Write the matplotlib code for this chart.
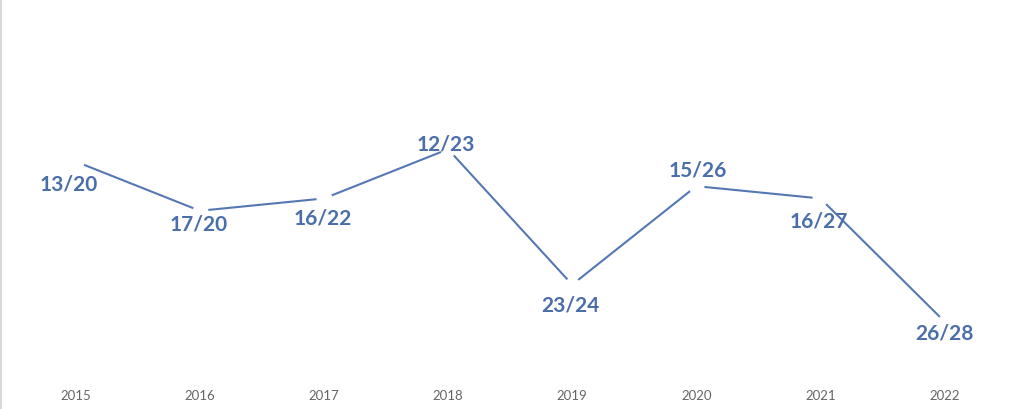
import matplotlib
matplotlib.use("Agg")
import matplotlib.pyplot as plt
from matplotlib.lines import Line2D

# data: rank / number of entries per year
years = ["2015", "2016", "2017", "2018", "2019", "2020", "2021", "2022"]
ranks = [13, 17, 16, 12, 23, 15, 16, 26]
totals = [20, 20, 22, 23, 24, 26, 27, 28]

# label offsets in points (dx, dy)
offsets = [(-5, -16), (-1, -9), (-1, -14), (-2, 4), (-1, -14), (1, 12), (-1, -16), (0, -8)]

line_col = "#5578B5"
text_col = "#4A6EAA"

fig = plt.figure(figsize=(10.24, 4.10), dpi=100)
ax = fig.add_axes([0, 0, 1, 1])
x = list(range(len(years)))

ax.plot(x, ranks, color=line_col, lw=1.5, zorder=2)
# white markers leave the small gaps around each point
ax.plot(x, ranks, ls="none", marker="o", ms=11.5, mfc="white", mec="none", zorder=3)

for i, (r, t) in enumerate(zip(ranks, totals)):
    ax.annotate("{}/{}".format(r, t), (i, r), xytext=offsets[i], textcoords="offset points",
                ha="center", va="center", fontsize=15, fontweight="bold",
                family="Lato", color=text_col, zorder=4)

for i, yr in enumerate(years):
    ax.text(i, 0.035, yr, transform=ax.get_xaxis_transform(), ha="center", va="center",
            fontsize=9.5, family="Lato", color="#666666")

ax.set_xlim(-0.61, 7.64)
ax.set_ylim(33.1, -0.2)
ax.axis("off")

# thin grey border on the left edge
fig.add_artist(Line2D([0.0012, 0.0012], [0, 1], transform=fig.transFigure, color="#D9D9D9", lw=1.5))

fig.savefig("out.png", dpi=100)
